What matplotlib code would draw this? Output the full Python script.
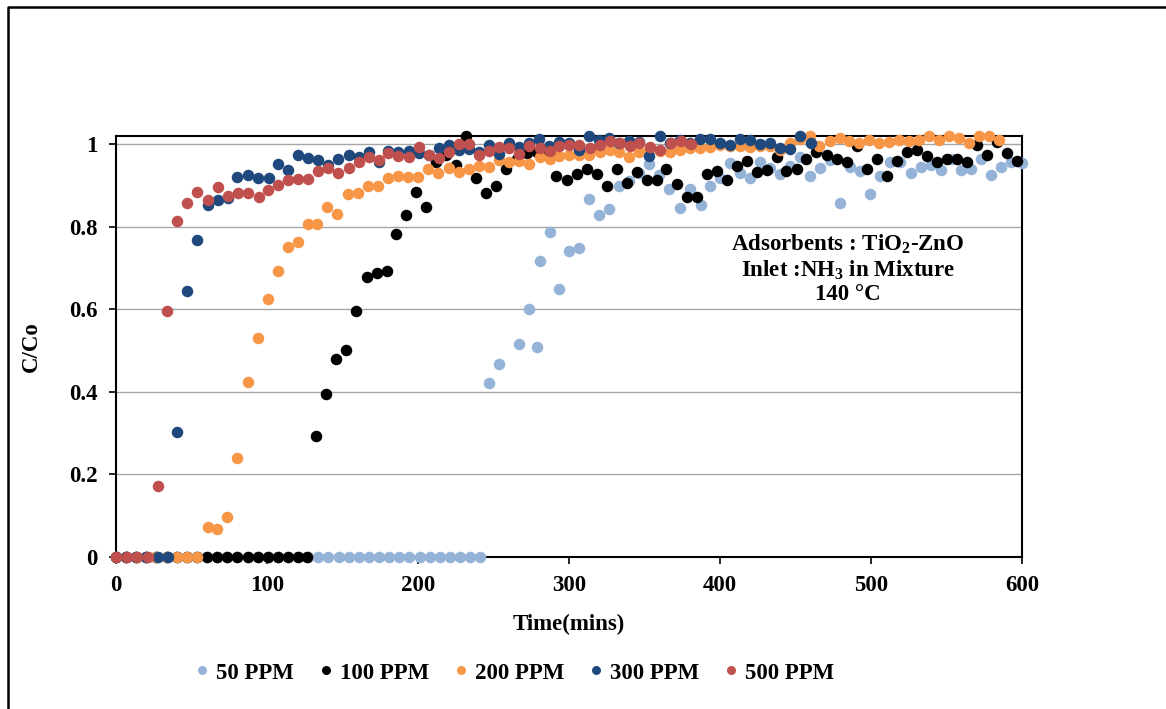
import matplotlib.pyplot as plt
from matplotlib.lines import Line2D

plt.rcParams['font.family'] = ['Liberation Serif', 'DejaVu Serif']
plt.rcParams['font.weight'] = 'bold'
plt.rcParams['mathtext.fontset'] = 'custom'
plt.rcParams['mathtext.rm'] = 'Liberation Serif:bold'
plt.rcParams['mathtext.it'] = 'Liberation Serif:bold'
plt.rcParams['mathtext.bf'] = 'Liberation Serif:bold'

# ---- data (time in mins, C/Co) ----
t_50 = [0, 6.7, 13.4, 20.1, 26.8, 33.5, 40.2, 46.9, 53.6, 60.3, 67, 73.7, 80.4, 87.1,
        93.8, 100.5, 107.2, 113.9, 120.6, 127.3, 134, 140.7, 147.4, 154.1, 160.8, 167.5,
        174.2, 180.9, 187.6, 194.3, 201, 207.7, 214.4, 221.1, 227.8, 234.5, 241.2,
        247.2, 253.8, 266.9, 273.5, 279.0, 280.5, 287.4, 293.6, 300.2, 306.8, 313.4,
        320.0, 326.7, 333.3, 340.0, 346.6, 353.2, 359.8, 366.4, 373.5, 380.1, 387.2,
        393.4, 400.0, 406.6, 413.2, 419.9, 426.5, 433.0, 439.7, 446.4, 453.0, 459.6,
        466.2, 472.8, 479.5, 486.1, 492.7, 499.3, 505.9, 512.6, 519.2, 526.3, 532.9,
        539.5, 546.2, 552.8, 559.4, 566.0, 572.6, 579.3, 585.9, 592.5, 599.8]
c_50 = [0] * 37 + [
        0.422, 0.468, 0.515, 0.601, 0.509, 0.717, 0.787, 0.650, 0.741, 0.748, 0.867,
        0.828, 0.842, 0.899, 0.911, 0.930, 0.951, 0.925, 0.891, 0.846, 0.891, 0.852,
        0.899, 0.917, 0.955, 0.930, 0.917, 0.958, 0.943, 0.927, 0.947, 0.970, 0.923,
        0.943, 0.962, 0.857, 0.946, 0.935, 0.879, 0.923, 0.957, 0.957, 0.931, 0.946,
        0.949, 0.938, 0.965, 0.938, 0.941, 0.965, 0.925, 0.946, 0.957, 0.955]

t_100 = [0, 6.7, 13.4, 20.1, 26.8, 33.5, 40.2, 46.9, 53.6, 60.3, 67, 73.7, 80.4, 87.1,
         93.8, 100.5, 107.2, 113.9, 120.6, 126.3,
         132.7, 139.0, 145.5, 152.0, 159.0, 166.0, 172.6, 179.3, 185.4, 192.0, 198.7,
         205.3, 212.0, 218.6, 225.2, 231.8, 238.4, 245.0, 251.7, 258.3, 265.4, 272.0,
         278.6, 285.0, 291.4, 299.0, 305.0, 311.7, 318.3, 325.0, 331.6, 338.2, 344.8,
         351.4, 358.0, 364.2, 371.3, 378.0, 384.6, 391.2, 397.8, 404.4, 411.0, 417.7,
         424.3, 430.9, 437.5, 443.7, 450.8, 457.0, 463.6, 470.7, 477.3, 483.9, 491.0,
         497.6, 503.8, 510.4, 517.0, 523.6, 530.7, 537.3, 543.5, 550.6, 557.2, 563.8,
         570.4, 577.0, 583.6, 590.3, 596.9]
c_100 = [0] * 20 + [
         0.292, 0.395, 0.480, 0.502, 0.597, 0.678, 0.687, 0.694, 0.782, 0.828, 0.885,
         0.849, 0.957, 0.975, 0.950, 1.020, 0.919, 0.883, 0.899, 0.939, 0.964, 0.978,
         0.980, 0.975, 0.923, 0.913, 0.929, 0.939, 0.929, 0.900, 0.941, 0.905, 0.933,
         0.913, 0.913, 0.939, 0.903, 0.871, 0.871, 0.927, 0.935, 0.913, 0.947, 0.960,
         0.933, 0.938, 0.968, 0.935, 0.939, 0.964, 0.980, 0.973, 0.965, 0.956, 0.995,
         0.939, 0.965, 0.923, 0.960, 0.980, 0.986, 0.972, 0.957, 0.964, 0.964, 0.956,
         0.998, 0.973, 1.006, 0.978, 0.960]

t_200 = [0, 6.7, 13.4, 20.1, 26.8, 33.5, 40.2, 46.9, 53.6,
         60.7, 67.0, 73.5, 80.3, 87.2, 94.0, 100.4, 107.0, 113.7, 120.3, 127.0, 133.3,
         140.0, 146.6, 153.4, 160.0, 167.0, 173.7, 180.4, 187.0, 193.6, 200.2, 206.8,
         213.5, 220.7, 227.3, 234.0, 240.1, 246.8, 253.4, 260.0, 266.7, 273.7, 280.8,
         287.4, 293.6, 300.2, 306.8, 313.4, 320.5, 327.0, 333.3, 340.0, 346.5, 353.2,
         360.0, 366.9, 373.5, 380.1, 386.8, 393.4, 400.0, 406.6, 413.2, 419.9, 426.5,
         433.0, 439.7, 446.4, 453.0, 459.6, 465.8, 472.6, 479.3, 485.6, 492.2, 498.9,
         505.5, 512.1, 518.7, 525.4, 532.0, 538.6, 545.2, 551.9, 558.5, 565.1, 571.7,
         578.3, 585.0]
c_200 = [0] * 9 + [
         0.072, 0.068, 0.096, 0.240, 0.424, 0.531, 0.624, 0.694, 0.752, 0.763, 0.807,
         0.807, 0.849, 0.830, 0.880, 0.883, 0.900, 0.900, 0.919, 0.923, 0.921, 0.921,
         0.939, 0.931, 0.943, 0.933, 0.939, 0.947, 0.946, 0.962, 0.958, 0.960, 0.953,
         0.968, 0.965, 0.972, 0.973, 0.975, 0.973, 0.981, 0.986, 0.982, 0.970, 0.982,
         0.985, 0.983, 0.981, 0.986, 0.990, 0.990, 0.993, 0.998, 0.995, 0.996, 0.993,
         0.995, 0.996, 0.986, 1.004, 1.012, 1.020, 0.995, 1.008, 1.014, 1.007, 1.004,
         1.010, 1.002, 1.006, 1.010, 1.008, 1.010, 1.019, 1.010, 1.019, 1.014, 1.004,
         1.019, 1.019, 1.010]

t_300 = [0, 6.7, 13.4, 20.1, 27.8, 34.4,
         40.4, 47.0, 53.8, 60.7, 67.5, 74.0, 80.3, 87.2, 94.0, 101.0, 107.5, 114.0,
         120.5, 127.0, 134.0, 140.6, 147.2, 154.0, 160.7, 167.5, 174.2, 180.4, 187.0,
         193.8, 200.7, 207.3, 213.9, 220.7, 227.3, 234.0, 240.6, 247.2, 253.8, 260.5,
         267.0, 273.7, 280.3, 287.0, 293.6, 300.2, 306.8, 313.4, 320.0, 326.7, 333.3,
         339.9, 346.5, 353.2, 360.3, 366.9, 373.5, 380.1, 386.8, 393.4, 400.0, 406.6,
         413.2, 419.9, 426.5, 433.1, 439.7, 446.6, 453.2, 460.0]
c_300 = [0] * 6 + [
         0.302, 0.644, 0.768, 0.854, 0.866, 0.870, 0.921, 0.926, 0.919, 0.917, 0.951,
         0.938, 0.974, 0.966, 0.962, 0.949, 0.965, 0.974, 0.968, 0.980, 0.956, 0.984,
         0.980, 0.984, 0.978, 0.975, 0.992, 0.998, 0.986, 0.988, 0.980, 0.998, 0.976,
         1.004, 0.994, 1.004, 1.012, 0.996, 1.005, 1.004, 0.987, 1.019, 1.011, 1.015,
         1.002, 1.007, 1.006, 0.972, 1.019, 1.004, 1.010, 1.002, 1.012, 1.012, 1.002,
         0.998, 1.012, 1.010, 1.000, 1.002, 0.990, 0.988, 1.019, 1.002]

t_500 = [0, 7.0, 14.0, 21.0,
         27.6, 33.8, 40.4, 47.0, 53.8, 60.7, 67.5, 74.0, 80.8, 87.6, 94.5, 100.9, 107.5,
         114.0, 120.7, 127.4, 134.0, 140.6, 147.2, 154.0, 160.7, 167.5, 174.2, 180.4,
         187.0, 193.8, 200.7, 207.3, 213.9, 220.7, 227.3, 234.0, 240.6, 247.2, 253.8,
         260.5, 267.0, 273.7, 280.8, 287.4, 293.6, 300.2, 306.8, 313.9, 320.5, 327.0,
         333.8, 340.4, 346.5, 353.6, 360.3, 367.3, 373.9, 380.6]
c_500 = [0] * 4 + [
         0.173, 0.597, 0.813, 0.858, 0.885, 0.865, 0.896, 0.875, 0.881, 0.881, 0.873,
         0.888, 0.901, 0.913, 0.915, 0.915, 0.934, 0.943, 0.931, 0.943, 0.956, 0.968,
         0.962, 0.978, 0.972, 0.969, 0.994, 0.973, 0.966, 0.982, 1.000, 1.000, 0.975,
         0.983, 0.994, 0.992, 0.976, 0.996, 0.992, 0.984, 0.995, 0.998, 0.998, 0.992,
         0.998, 1.008, 1.002, 0.996, 1.002, 0.994, 0.986, 1.002, 1.008, 1.000]

series = [
    ('50 PPM', t_50, c_50, '#95B3D7'),
    ('100 PPM', t_100, c_100, '#000000'),
    ('200 PPM', t_200, c_200, '#F79646'),
    ('300 PPM', t_300, c_300, '#1F497D'),
    ('500 PPM', t_500, c_500, '#C0504D'),
]

FS = 16.5

fig = plt.figure(figsize=(11.66, 7.09), dpi=100)
ax = fig.add_axes([0.0995, 0.2144, 0.777, 0.5938])

for k, (lab, t, c, col) in enumerate(series):
    ax.plot(t, c, 'o', ms=8.3, color=col, mec='none', label=lab,
            clip_on=False, zorder=3 + k)

ax.set_xlim(0, 600)
ax.set_ylim(0, 1.02)
ax.set_xticks([0, 100, 200, 300, 400, 500, 600])
ax.set_yticks([0, 0.2, 0.4, 0.6, 0.8, 1.0])
ax.set_yticklabels(['0', '0.2', '0.4', '0.6', '0.8', '1'])
ax.yaxis.grid(True, color='#A6A6A6', lw=1.0)
ax.set_axisbelow(True)
for s in ax.spines.values():
    s.set_color('black')
    s.set_linewidth(1.5)
ax.tick_params(axis='both', labelsize=FS, direction='out', length=5, width=1.2)
ax.tick_params(axis='x', pad=8)
ax.tick_params(axis='y', pad=8)
for lbl in ax.get_xticklabels() + ax.get_yticklabels():
    lbl.set_fontweight('bold')

ax.set_xlabel('Time(mins)', fontsize=FS, fontweight='bold', labelpad=13)
ax.set_ylabel('C/Co', fontsize=FS, fontweight='bold', labelpad=20)

ax.text(0.808, 0.684,
        'Adsorbents : TiO$_2$-ZnO\nInlet :NH$_3$ in Mixture\n140 \u00b0C',
        transform=ax.transAxes, ha='center', va='center', fontsize=FS,
        fontweight='bold', linespacing=1.15, zorder=10)

fig.legend(loc='center', bbox_to_anchor=(0.4404, 1 - 673 / 709), ncol=5,
           frameon=False, markerscale=0.78, handlelength=0.8,
           handletextpad=0.2, columnspacing=1.0,
           prop={'weight': 'bold', 'size': FS})

# outer border of the chart (left and top edges visible)
fig.add_artist(Line2D([8 / 1166, 8 / 1166, 1.0], [0.0, 1 - 7 / 709, 1 - 7 / 709],
                      transform=fig.transFigure, color='black', lw=1.8))

fig.savefig('out.png', dpi=100)
